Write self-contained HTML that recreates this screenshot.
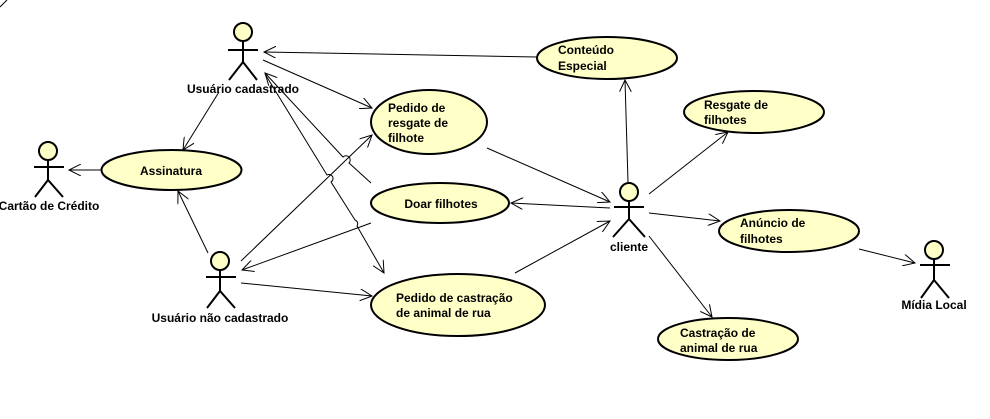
<!DOCTYPE html>
<html><head><meta charset="utf-8"><style>
html,body{margin:0;padding:0;background:#fff;}
svg{display:block;}
text{font-family:"Liberation Sans",sans-serif;font-weight:bold;font-size:12px;fill:#000;}
</style></head><body>
<svg width="990" height="419" viewBox="0 0 990 419" xmlns="http://www.w3.org/2000/svg">
<defs>
<marker id="a" markerWidth="14" markerHeight="12" refX="12" refY="6" orient="auto" markerUnits="userSpaceOnUse">
<polyline points="0,0 12,6 0,12" fill="none" stroke="#000" stroke-width="1"/>
</marker>
</defs>
<line x1="0" y1="7" x2="7" y2="0" stroke="#000"/>
<g stroke="#000" stroke-width="1" fill="none">
<line x1="537" y1="57" x2="264" y2="52" marker-end="url(#a)"/>
<line x1="263" y1="60" x2="372" y2="108" marker-end="url(#a)"/>
<line x1="219" y1="92" x2="183" y2="150" marker-end="url(#a)"/>
<line x1="101" y1="170" x2="69" y2="170" marker-end="url(#a)"/>
<line x1="208" y1="253" x2="178" y2="191" marker-end="url(#a)"/>
<path d="M371,183 L349,163 A4,4 0 0 0 343,157 L265,73" marker-end="url(#a)"/>
<path d="M265,74 L327,175 A4,4 0 0 1 331,182 L355,220 A4,4 0 0 1 357,226 L384,273" marker-end="url(#a)"/>
<line x1="241" y1="261" x2="372" y2="135" marker-end="url(#a)"/>
<line x1="371" y1="223" x2="242" y2="270" marker-end="url(#a)"/>
<line x1="241" y1="283" x2="372" y2="296" marker-end="url(#a)"/>
<line x1="487" y1="148" x2="610" y2="202" marker-end="url(#a)"/>
<line x1="610" y1="208" x2="511" y2="203" marker-end="url(#a)"/>
<line x1="515" y1="273" x2="610" y2="221" marker-end="url(#a)"/>
<line x1="628" y1="182" x2="625" y2="80" marker-end="url(#a)"/>
<line x1="649" y1="194" x2="728" y2="132" marker-end="url(#a)"/>
<line x1="649" y1="213" x2="720" y2="221" marker-end="url(#a)"/>
<line x1="649" y1="236" x2="712" y2="317" marker-end="url(#a)"/>
<line x1="859" y1="249" x2="915" y2="263" marker-end="url(#a)"/>
</g>
<g fill="#ffffc8" stroke="#000" stroke-width="2">
<ellipse cx="171.5" cy="170" rx="70" ry="20"/>
<ellipse cx="429" cy="122" rx="58" ry="32"/>
<ellipse cx="440" cy="203" rx="69" ry="20"/>
<ellipse cx="458" cy="305" rx="87" ry="31"/>
<ellipse cx="607" cy="58" rx="70" ry="21"/>
<ellipse cx="754" cy="112" rx="70" ry="21"/>
<ellipse cx="789" cy="231" rx="70" ry="21"/>
<ellipse cx="728" cy="339" rx="70" ry="21"/>
</g>
<g stroke="#000" stroke-width="2" fill="none">
<g transform="translate(243,0)"><circle cx="0" cy="32" r="9" fill="#ffffc8"/><line x1="-15" y1="50" x2="15" y2="50"/><line x1="0" y1="41" x2="0" y2="62"/><polyline points="-14,80 0,62 14,80"/></g>
<g transform="translate(48,0)"><circle cx="0" cy="151" r="9" fill="#ffffc8"/><line x1="-14" y1="167" x2="16" y2="167"/><line x1="0" y1="160" x2="0" y2="180"/><polyline points="-13,197 0,180 15,197"/></g>
<g transform="translate(220,0)"><circle cx="0" cy="261" r="9" fill="#ffffc8"/><line x1="-14" y1="277" x2="16" y2="277"/><line x1="0" y1="270" x2="0" y2="291"/><polyline points="-13,308 0,291 15,308"/></g>
<g transform="translate(629,0)"><circle cx="0" cy="192" r="9" fill="#ffffc8"/><line x1="-15" y1="207" x2="15" y2="207"/><line x1="0" y1="201" x2="0" y2="219"/><polyline points="-16,237 0,219 16,237"/></g>
<g transform="translate(934,0)"><circle cx="0" cy="250" r="9" fill="#ffffc8"/><line x1="-14" y1="265" x2="16" y2="265"/><line x1="0" y1="259" x2="0" y2="280"/><polyline points="-13,298 0,280 15,298"/></g>
</g>
<text x="243" y="93" text-anchor="middle">Usuário cadastrado</text>
<text x="49" y="210" text-anchor="middle">Cartão de Crédito</text>
<text x="220" y="322" text-anchor="middle">Usuário não cadastrado</text>
<text x="629" y="251" text-anchor="middle">cliente</text>
<text x="934" y="309" text-anchor="middle">Mídia Local</text>
<text x="171" y="175" text-anchor="middle">Assinatura</text>
<text x="388" y="112">Pedido de</text>
<text x="388" y="127">resgate de</text>
<text x="388" y="142">filhote</text>
<text x="441" y="208" text-anchor="middle">Doar filhotes</text>
<text x="396" y="302">Pedido de castração</text>
<text x="396" y="317">de animal de rua</text>
<text x="558" y="54">Conteúdo</text>
<text x="558" y="70">Especial</text>
<text x="704" y="109">Resgate de</text>
<text x="704" y="124">filhotes</text>
<text x="740" y="227">Anúncio de</text>
<text x="740" y="243">filhotes</text>
<text x="680" y="337">Castração de</text>
<text x="680" y="352">animal de rua</text>
</svg>
</body></html>
